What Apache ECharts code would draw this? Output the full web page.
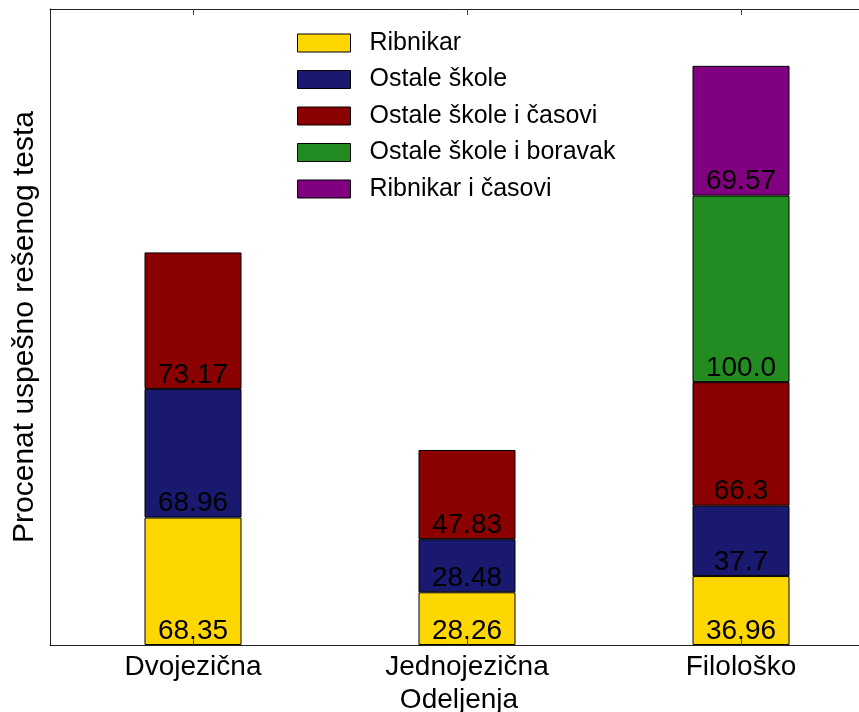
<!DOCTYPE html>
<html>
<head>
<meta charset="utf-8">
<script src="https://cdn.jsdelivr.net/npm/echarts@6/dist/echarts.min.js"></script>
<style>
  html, body { margin: 0; padding: 0; background: #fff; }
  #chart { width: 859px; height: 712px; }
</style>
</head>
<body>
<div id="chart"></div>
<script>
// Departments on the horizontal axis
const categories = ['Dvojezična', 'Jednojezična', 'Filološko'];

// Stacked segments (bottom to top); null = no segment for that department
const ribnikar       = [68.35, 28.26, 36.96];
const ostaleSkole    = [68.96, 28.48, 37.7];
const ostaleCasovi   = [73.17, 47.83, 66.3];
const ostaleBoravak  = [null, null, 100.0];
const ribnikarCasovi = [null, null, 69.57];

const seriesNames = ['Ribnikar', 'Ostale škole', 'Ostale škole i časovi', 'Ostale škole i boravak', 'Ribnikar i časovi'];
const seriesValues = [ribnikar, ostaleSkole, ostaleCasovi, ostaleBoravak, ribnikarCasovi];
const colors = ['#FFD700', '#191970', '#8B0000', '#228B22', '#800080'];

const FONT = '"Liberation Sans", Arial, sans-serif';
const Y_MAX = 341;

// Python-style float text: whole numbers keep one decimal
function fmt(v) {
  const s = String(v);
  return s.includes('.') ? s : v.toFixed(1);
}

const series = seriesNames.map((name, k) => ({
  name: name,
  type: 'bar',
  stack: 'total',
  xAxisIndex: 0,
  yAxisIndex: 0,
  barWidth: 97,
  itemStyle: { color: colors[k], borderColor: '#000', borderWidth: 1 },
  label: {
    show: true,
    position: 'insideBottom',
    distance: 0,
    color: '#000',
    fontSize: 28,
    fontFamily: FONT,
    formatter: p => fmt(p.value)
  },
  data: seriesValues[k].slice()
}));

// Frame axes (spines with inward ticks at the category centres)
const frameX = {
  type: 'value',
  gridIndex: 1,
  min: -0.522,
  max: 2.522,
  z: 5,
  splitLine: { show: false },
  axisLabel: { show: false },
  axisLine: { show: true, onZero: false, lineStyle: { color: '#222', width: 1 } },
  axisTick: { show: true, inside: true, length: 6, customValues: [0, 1, 2], lineStyle: { color: '#444' } }
};

const chart = echarts.init(document.getElementById('chart'), null, { renderer: 'canvas' });
chart.setOption({
  animation: false,
  backgroundColor: '#fff',
  grid: [
    { left: 56, top: 9, width: 822, bottom: 67, outerBoundsMode: 'none', containLabel: false },
    { left: 50, top: 9, width: 834, bottom: 67, outerBoundsMode: 'none', containLabel: false }
  ],
  legend: {
    orient: 'vertical',
    left: 292,
    top: 25,
    itemWidth: 53,
    itemHeight: 18,
    itemGap: 10.5,
    icon: 'rect',
    selectedMode: false,
    itemStyle: { borderColor: '#000', borderWidth: 1 },
    textStyle: { fontSize: 25, fontFamily: FONT, color: '#000', lineHeight: 26, padding: [0, 0, 0, 14] },
    data: seriesNames
  },
  xAxis: [
    {
      type: 'category',
      gridIndex: 0,
      data: categories,
      axisLine: { show: false },
      axisTick: { show: false },
      splitLine: { show: false },
      axisLabel: { margin: 8, fontSize: 28, fontFamily: FONT, color: '#000' },
      name: 'Odeljenja',
      nameLocation: 'middle',
      nameGap: 39,
      nameTextStyle: { fontSize: 28, fontFamily: FONT, color: '#000', padding: [0, 16, 0, 0] }
    },
    Object.assign({}, frameX, { position: 'bottom' }),
    Object.assign({}, frameX, { position: 'top' })
  ],
  yAxis: [
    {
      type: 'value',
      gridIndex: 0,
      min: 0,
      max: Y_MAX,
      show: false
    },
    {
      type: 'value',
      gridIndex: 1,
      min: 0,
      max: Y_MAX,
      z: 5,
      name: 'Procenat uspešno rešenog testa',
      nameLocation: 'middle',
      nameGap: 10,
      nameTextStyle: { fontSize: 30, fontFamily: FONT, color: '#000' },
      axisLine: { show: true, onZero: false, lineStyle: { color: '#222', width: 1 } },
      axisTick: { show: false },
      axisLabel: { show: false },
      splitLine: { show: false }
    }
  ],
  series: series
});
</script>
</body>
</html>
